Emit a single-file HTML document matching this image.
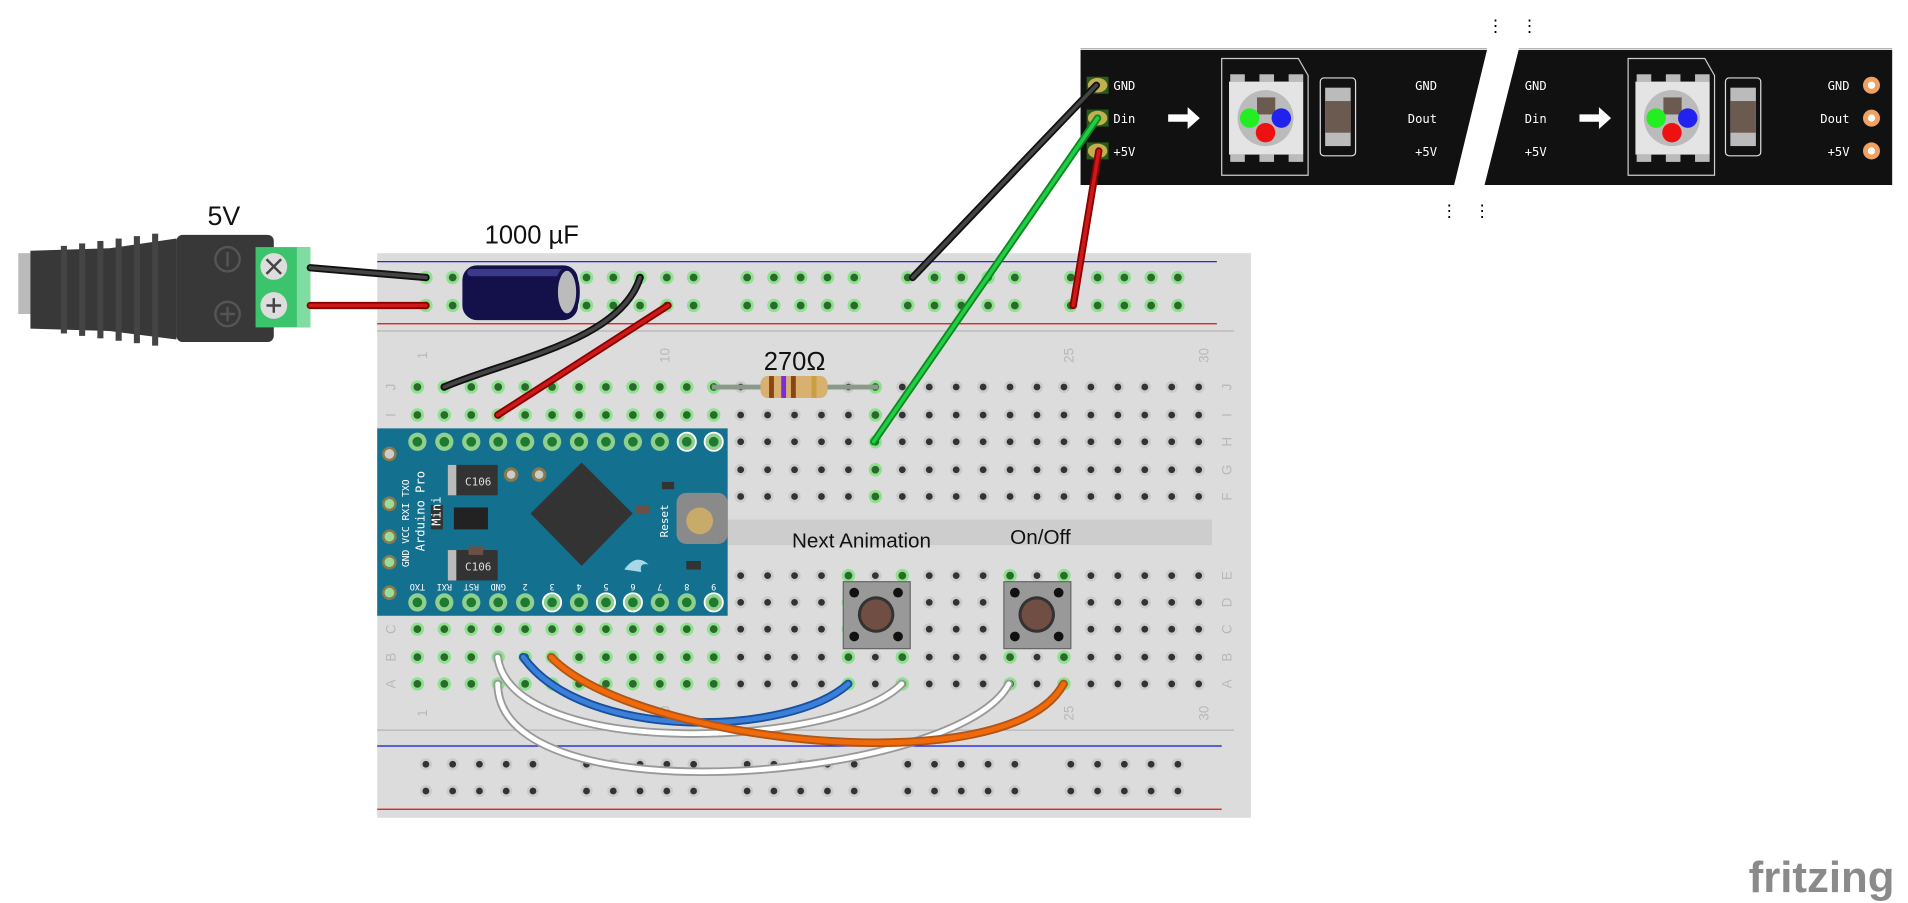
<!DOCTYPE html>
<html><head><meta charset="utf-8"><style>
html,body{margin:0;padding:0;background:#fff;overflow:hidden}
svg{display:block}
text{font-family:"Liberation Sans",sans-serif}
.m{font-family:"DejaVu Sans Mono","Liberation Mono",monospace}
</style></head><body>
<svg id="s" width="1908" height="903" viewBox="0 0 1568 742" xmlns="http://www.w3.org/2000/svg">
<rect width="1568" height="742" fill="#fff"/>
<rect x="310" y="208" width="718" height="464" fill="#dcdcdc"/>
<line x1="310" y1="215" x2="1000" y2="215" stroke="#1010e0" stroke-width="1"/>
<line x1="310" y1="266" x2="1000" y2="266" stroke="#e01010" stroke-width="1"/>
<line x1="310" y1="272" x2="1014" y2="272" stroke="#bbb" stroke-width="1.2"/>
<line x1="310" y1="600" x2="1014" y2="600" stroke="#bbb" stroke-width="1.2"/>
<line x1="310" y1="613" x2="1004" y2="613" stroke="#1010e0" stroke-width="1"/>
<line x1="310" y1="665" x2="1004" y2="665" stroke="#e01010" stroke-width="1"/>
<rect x="598" y="427" width="398" height="21" fill="#cdcdcd"/>
<g id="holes"></g>
<g fill="#b8b8b8" font-size="11" text-anchor="middle" id="lbl"></g>
<text x="708" y="450" font-size="17" text-anchor="middle" fill="#111">Next Animation</text>
<text x="855" y="447" font-size="17" text-anchor="middle" fill="#111">On/Off</text>

<rect x="310" y="352" width="288" height="154" fill="#14708f"/>
<g id="ard"></g>
<rect x="368" y="382" width="41" height="25" fill="#333"/><rect x="368" y="382" width="7" height="25" fill="#bbb"/>
<text x="393" y="399" font-size="9" fill="#ddd" class="m" text-anchor="middle">C106</text>
<rect x="368" y="452" width="41" height="25" fill="#333"/><rect x="368" y="452" width="7" height="25" fill="#bbb"/>
<text x="393" y="469" font-size="9" fill="#ddd" class="m" text-anchor="middle">C106</text>
<polygon points="478,380 520,422 478,465 436,422" fill="#333"/>
<rect x="354" y="415" width="10" height="20" fill="#333"/><rect x="373" y="417" width="28" height="18" fill="#222"/>
<rect x="556" y="405" width="42" height="42" rx="8" fill="#8a8a8a"/><circle cx="575" cy="428" r="11" fill="#c8aa6a"/>
<text transform="translate(549,428) rotate(-90)" font-size="9" fill="#fff" class="m" text-anchor="middle">Reset</text>
<text transform="translate(349,420) rotate(-90)" font-size="10" fill="#fff" class="m" text-anchor="middle">Arduino Pro</text>
<text transform="translate(362,420) rotate(-90)" font-size="10" fill="#fff" class="m" text-anchor="middle">Mini</text>
<text transform="translate(336,430) rotate(-90)" font-size="8" fill="#fff" class="m" text-anchor="middle">GND VCC RXI TXO</text>
<rect x="385" y="449" width="12" height="7" fill="#6a5045"/><rect x="564" y="461" width="12" height="7" fill="#333"/>
<rect x="522" y="415" width="12" height="7" fill="#6a5045"/><rect x="544" y="396" width="10" height="6" fill="#333"/>
<path d="M513,468 q10,-14 20,-4 q-8,-2 -6,6 z" fill="#a8d8e8"/>

<line x1="585" y1="318" x2="722" y2="318" stroke="#8a9a8a" stroke-width="4"/>
<rect x="625" y="309" width="55" height="18" rx="6" fill="#d8b070"/>
<rect x="632" y="309" width="4" height="18" fill="#8b4513"/><rect x="642" y="309" width="4" height="18" fill="#7a2be2"/><rect x="650" y="309" width="4" height="18" fill="#8b4513"/><rect x="667" y="309" width="4" height="18" fill="#c9a040"/>
<text x="653" y="304" font-size="21" text-anchor="middle" fill="#111">270Ω</text>

<g id="btn"></g>

<rect x="15" y="208" width="12" height="50" fill="#bbb"/>
<path d="M25,206 L90,204 L145,196 L145,279 L90,272 L25,270 Z" fill="#383838"/>
<g fill="#444"><rect x="50" y="202" width="5" height="72"/><rect x="65" y="200" width="5" height="76"/><rect x="80" y="198" width="5" height="80"/><rect x="95" y="196" width="5" height="84"/><rect x="110" y="194" width="5" height="88"/><rect x="125" y="192" width="5" height="92"/></g>
<rect x="145" y="193" width="80" height="88" rx="5" fill="#383838"/>
<circle cx="187" cy="213" r="10" fill="none" stroke="#555" stroke-width="2"/><line x1="187" y1="207" x2="187" y2="219" stroke="#555" stroke-width="2"/>
<circle cx="187" cy="258" r="10" fill="none" stroke="#555" stroke-width="2"/><path d="M187,252v12M181,258h12" stroke="#555" stroke-width="2"/>
<rect x="210" y="203" width="45" height="66" fill="#3cc46c"/><rect x="244" y="203" width="11" height="66" fill="#80dca0"/>
<circle cx="225" cy="219" r="11" fill="#ddd"/><path d="M219,213l12,12M231,213l-12,12" stroke="#444" stroke-width="2"/>
<circle cx="225" cy="251" r="11" fill="#ddd"/><path d="M225,245v12M219,251h12" stroke="#444" stroke-width="2"/>
<text x="184" y="185" font-size="22" text-anchor="middle" fill="#111">5V</text>

<rect x="380" y="218" width="95" height="45" rx="12" fill="#14104a"/>
<rect x="384" y="221" width="80" height="6" rx="3" fill="#3a3a8a"/>
<ellipse cx="466" cy="240" rx="9" ry="19" fill="#bbb" stroke="#14104a" stroke-width="3"/>
<text x="437" y="200" font-size="21" text-anchor="middle" fill="#111">1000 µF</text>

<line x1="888" y1="40" x2="1222" y2="40" stroke="#aaa"/><line x1="1248" y1="40" x2="1555" y2="40" stroke="#aaa"/>
<polygon points="888,41 1222,41 1195,152 888,152" fill="#111"/>
<polygon points="1248,41 1555,41 1555,152 1220,152" fill="#111"/>
<g id="strip"></g>
<g font-size="14" fill="#000" class="m"><text x="1222" y="26">⋮</text><text x="1250" y="26">⋮</text><text x="1184" y="178">⋮</text><text x="1211" y="178">⋮</text></g>

<g fill="none" stroke-linecap="round">
<path d="M255,220 L350,228" stroke="#111" stroke-width="6"/><path d="M255,220 L350,228" stroke="#444" stroke-width="3"/>
<path d="M255,251 L350,251" stroke="#8a0000" stroke-width="6"/><path d="M255,251 L350,251" stroke="#cc1a1a" stroke-width="3"/>
<path d="M526,228 C510,280 420,295 365,318" stroke="#111" stroke-width="6"/><path d="M526,228 C510,280 420,295 365,318" stroke="#444" stroke-width="3"/>
<path d="M549,251 L409,341" stroke="#8a0000" stroke-width="6"/><path d="M549,251 L409,341" stroke="#cc1a1a" stroke-width="3"/>
<path d="M750,228 L901,70" stroke="#111" stroke-width="6"/><path d="M750,228 L901,70" stroke="#444" stroke-width="3"/>
<path d="M718,363 L902,97" stroke="#0a8a20" stroke-width="6"/><path d="M718,363 L902,97" stroke="#22cc44" stroke-width="3"/>
<path d="M882,251 L903,124" stroke="#8a0000" stroke-width="6"/><path d="M882,251 L903,124" stroke="#cc1a1a" stroke-width="3"/>
<path d="M409,540 C420,625 690,615 741,562" stroke="#999" stroke-width="7"/><path d="M409,540 C420,625 690,615 741,562" stroke="#fff" stroke-width="4"/>
<path d="M409,562 C410,675 790,640 829,562" stroke="#999" stroke-width="7"/><path d="M409,562 C410,675 790,640 829,562" stroke="#fff" stroke-width="4"/>
<path d="M430,540 C480,610 650,605 697,562" stroke="#1a4fa0" stroke-width="7"/><path d="M430,540 C480,610 650,605 697,562" stroke="#3a80d8" stroke-width="4"/>
<path d="M453,540 C520,610 830,645 874,562" stroke="#b0551a" stroke-width="7"/><path d="M453,540 C520,610 830,645 874,562" stroke="#f06a0a" stroke-width="4"/>
</g>

<text x="1497" y="733" font-size="36" font-weight="bold" text-anchor="middle" fill="#8a8a8a">fritzing</text>
</svg>
<script>
var NS="http://www.w3.org/2000/svg";
function el(p,t,a,txt){var e=document.createElementNS(NS,t);for(var k in a)e.setAttribute(k,a[k]);if(txt!=null)e.textContent=txt;p.appendChild(e);return e;}
var H=document.getElementById('holes');
function hole(x,y,g){
  if(g){el(H,'circle',{cx:x,cy:y,r:5.5,fill:'#8fe08f'});el(H,'circle',{cx:x,cy:y,r:3.2,fill:'#2a6a2a'});}
  else{el(H,'circle',{cx:x,cy:y,r:5,fill:'#cbcbcb'});el(H,'circle',{cx:x,cy:y,r:2.8,fill:'#333'});}
}
var rc=[350,372,394,416,438,482,504,526,548,570,614,636,658,680,702,746,768,790,812,834,880,902,924,946,968];
rc.forEach(function(x){hole(x,228,1);hole(x,251,1);hole(x,628,0);hole(x,650,0);});
function cx(c){return 343+(c-1)*22.14;}
var rows=[318,341,363,386,408,473,495,517,540,562];
for(var c=1;c<=30;c++){for(var r=0;r<10;r++){
  var x=cx(c),y=rows[r];
  if(x<600&&y>350&&y<508)continue;
  var g=false;
  if(c<=12&&(r<2||r>6))g=true;
  if(c==18&&r<5)g=true;
  if((c==17||c==19||c==23||c==25)&&r>=5)g=true;
  hole(x,y,g);
}}
var L=document.getElementById('lbl');
var letters="JIHGFEDCBA";
for(var r=0;r<10;r++){el(L,'text',{x:321,y:rows[r]+4,transform:'rotate(-90 321 '+rows[r]+')'},letters[r]);el(L,'text',{x:1008,y:rows[r]+4,transform:'rotate(-90 1008 '+rows[r]+')'},letters[r]);}
[[1,'1'],[10,'10'],[25,'25'],[30,'30']].forEach(function(p){var x=cx(p[0]);el(L,'text',{x:x+4,y:296,transform:'rotate(-90 '+(x+4)+' 292)'},p[1]);el(L,'text',{x:x+4,y:590,transform:'rotate(-90 '+(x+4)+' 586)'},p[1]);});
var A=document.getElementById('ard');
var top=['RAW','GND','RST','VCC','A3','A2','A1','A0','13','12','11','10'];
var bot=['TXO','RXI','RST','GND','2','3','4','5','6','7','8','9'];
for(var i=0;i<12;i++){var x=cx(i+1);
  var wt=(i>=10),wb=(i==5||i==7||i==8||i==11);
  el(A,'circle',{cx:x,cy:363,r:7.5,fill:'#8fd08f',stroke:wt?'#fff':'none','stroke-width':1.5});el(A,'circle',{cx:x,cy:363,r:4,fill:'#1e7a2e'});
  el(A,'circle',{cx:x,cy:495,r:7.5,fill:'#8fd08f',stroke:wb?'#fff':'none','stroke-width':1.5});el(A,'circle',{cx:x,cy:495,r:4,fill:'#1e7a2e'});
  el(A,'text',{x:x,y:376,'font-size':7,fill:'#fff','text-anchor':'middle','class':'m',transform:'rotate(180 '+x+' 374)'},top[i]);
  el(A,'text',{x:x,y:484,'font-size':7,fill:'#fff','text-anchor':'middle','class':'m',transform:'rotate(180 '+x+' 482)'},bot[i]);
}
[[320,373,'#ccc'],[320,414,0],[320,441,0],[320,462,0],[320,487,0]].forEach(function(p){el(A,'circle',{cx:p[0],cy:p[1],r:6,fill:'#8a7a4a'});el(A,'circle',{cx:p[0],cy:p[1],r:4,fill:p[2]||'#9ada9a'});});
[[420,390],[443,390]].forEach(function(p){el(A,'circle',{cx:p[0],cy:p[1],r:6,fill:'#8a7a4a'});el(A,'circle',{cx:p[0],cy:p[1],r:3.5,fill:'#ccc'});});
var B=document.getElementById('btn');
[720,852].forEach(function(x){
  el(B,'rect',{x:x-27,y:478,width:55,height:55,fill:'#999',stroke:'#666'});
  el(B,'circle',{cx:x,cy:505,r:15,fill:'#333'});el(B,'circle',{cx:x,cy:505,r:12.5,fill:'#704e44'});
  [[-18,-18],[18,-18],[-18,18],[18,18]].forEach(function(d){el(B,'circle',{cx:x+d[0],cy:505+d[1],r:4,fill:'#111'});});
});
var S=document.getElementById('strip');
var ys=[70,97,124],nm=['GND','Din','+5V'],nr=['GND','Dout','+5V'];
ys.forEach(function(y,i){
  el(S,'rect',{x:893,y:y-7,width:18,height:14,fill:'#2a5a1a'});el(S,'ellipse',{cx:902,cy:y,rx:8,ry:6,fill:'#c0b050'});
  el(S,'text',{x:915,y:y+4,'font-size':10,fill:'#fff','class':'m'},nm[i]);
  el(S,'text',{x:1181,y:y+4,'font-size':10,fill:'#fff','class':'m','text-anchor':'end'},nr[i]);
  el(S,'text',{x:1253,y:y+4,'font-size':10,fill:'#fff','class':'m'},nm[i]);
  el(S,'text',{x:1520,y:y+4,'font-size':10,fill:'#fff','class':'m','text-anchor':'end'},nr[i]);
  el(S,'circle',{cx:1538,cy:y,r:7,fill:'#f0a060'});el(S,'circle',{cx:1538,cy:y,r:3,fill:'#fff'});
});
[[960,1004,1085],[1298,1338,1418]].forEach(function(p){
  el(S,'path',{d:'M'+p[0]+',94h16v-6l10,9l-10,9v-6h-16z',fill:'#fff'});
  var l=p[1];
  el(S,'path',{d:'M'+l+',48h63l8,14v82h-71z',fill:'none',stroke:'#ccc'});
  el(S,'rect',{x:l+6,y:67,width:61,height:60,fill:'#e4e4e4'});
  [13,37,61].forEach(function(o){el(S,'rect',{x:l+o-6,y:61,width:12,height:6,fill:'#bbb'});el(S,'rect',{x:l+o-6,y:127,width:12,height:6,fill:'#bbb'});});
  el(S,'circle',{cx:l+36,cy:97,r:23,fill:'#bbb'});
  el(S,'rect',{x:l+29,y:80,width:15,height:14,fill:'#6a5a50'});
  el(S,'circle',{cx:l+23,cy:97,r:8,fill:'#22ee22'});el(S,'circle',{cx:l+49,cy:97,r:8,fill:'#2222ee'});el(S,'circle',{cx:l+36,cy:109,r:8,fill:'#ee1111'});
  var c=p[2];
  el(S,'rect',{x:c,y:64,width:29,height:64,rx:3,fill:'none',stroke:'#ddd'});
  el(S,'rect',{x:c+4,y:72,width:21,height:48,fill:'#bbb'});el(S,'rect',{x:c+4,y:83,width:21,height:26,fill:'#6a5a50'});
});
</script>
</body></html>
